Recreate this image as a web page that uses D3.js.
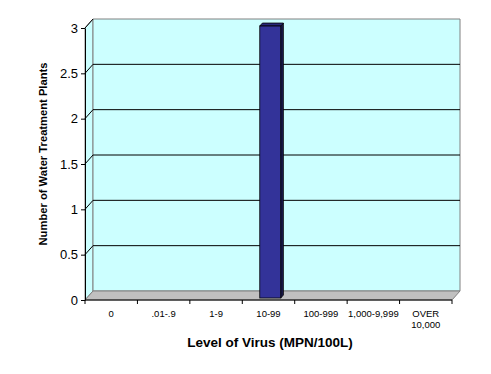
<!DOCTYPE html>
<html>
<head>
<meta charset="utf-8">
<script src="https://cdn.jsdelivr.net/npm/d3@7"></script>
<style>
  body { margin: 0; background: #fff; }
  svg { display: block; font-family: Arial, "Liberation Sans", sans-serif; }
</style>
</head>
<body>
<div id="chart"></div>
<script>
'use strict';

var categories  = ['0', '.01-.9', '1-9', '10-99', '100-999', '1,000-9,999', 'OVER 10,000'];
var plantCounts = [0, 0, 0, 3, 0, 0, 0];
var yTicks      = [0, 0.5, 1, 1.5, 2, 2.5, 3];
var labelX = 'Level of Virus (MPN/100L)';
var labelY = 'Number of Water Treatment Plants';

var W = 491, H = 374;
var dX = 8, dY = -9;   // depth offset of back wall

var svg = d3.select('#chart').append('svg')
    .attr('width', W)
    .attr('height', H);

var x = d3.scaleBand().domain(categories).range([85, 452]);
var y = d3.scaleLinear().domain([0, 3]).range([300, 28]);

function pt(px, py, d) { return [px + dX * d, py + dY * d]; }
function poly(pts) { return pts.map(function(p) { return p.join(','); }).join(' '); }

var x0 = x.range()[0], x1 = x.range()[1];
var yb = y(0), yt = y(3);

// side wall
svg.append('polygon')
    .attr('points', poly([pt(x0, yb, 0), pt(x0, yt, 0), pt(x0, yt, 1), pt(x0, yb, 1)]))
    .attr('fill', '#ccffff')
    .attr('stroke', '#808080')
    .attr('stroke-width', 1);

// back wall
svg.append('polygon')
    .attr('points', poly([pt(x0, yb, 1), pt(x0, yt, 1), pt(x1, yt, 1), pt(x1, yb, 1)]))
    .attr('fill', '#ccffff')
    .attr('stroke', '#808080')
    .attr('stroke-width', 1);

// gridlines
var grid = svg.append('g');
yTicks.slice(1, -1).forEach(function(t) {
    var a = pt(x0, y(t), 0), b = pt(x0, y(t), 1), c = pt(x1, y(t), 1);
    grid.append('polyline')
        .attr('points', poly([a, b, c]))
        .attr('fill', 'none')
        .attr('stroke', '#000')
        .attr('stroke-width', 1);
});
// top diagonal
svg.append('line')
    .attr('x1', x0).attr('y1', yt)
    .attr('x2', pt(x0, yt, 1)[0]).attr('y2', pt(x0, yt, 1)[1])
    .attr('stroke', '#000');

// floor
svg.append('polygon')
    .attr('points', poly([pt(x0, yb, 0), pt(x1, yb, 0), pt(x1, yb, 1), pt(x0, yb, 1)]))
    .attr('fill', '#c0c0c0')
    .attr('stroke', '#808080')
    .attr('stroke-width', 1);

// bars
var dFront = 0.22, dBack = 0.55;
var bw = x.bandwidth() * 0.4;
var bars = svg.append('g').selectAll('g')
    .data(categories.map(function(c, i) { return {cat: c, v: plantCounts[i]}; })
        .filter(function(d) { return d.v > 0; }))
    .enter().append('g');

bars.each(function(d) {
    var g = d3.select(this);
    var bx0 = x(d.cat) + (x.bandwidth() - bw) / 2, bx1 = bx0 + bw;
    var by0 = y(0), by1 = y(d.v);
    var f = function(px, py) { return pt(px, py, dFront); };
    var b = function(px, py) { return pt(px, py, dBack); };
    g.append('polygon')
        .attr('points', poly([f(bx1, by0), f(bx1, by1), b(bx1, by1), b(bx1, by0)]))
        .attr('fill', '#1a1a4d').attr('stroke', '#000').attr('stroke-width', 0.8);
    g.append('polygon')
        .attr('points', poly([f(bx0, by1), f(bx1, by1), b(bx1, by1), b(bx0, by1)]))
        .attr('fill', '#29297a').attr('stroke', '#000').attr('stroke-width', 0.8);
    var p0 = f(bx0, by1), p1 = f(bx1, by0);
    g.append('rect')
        .attr('x', p0[0]).attr('y', p0[1])
        .attr('width', p1[0] - p0[0]).attr('height', p1[1] - p0[1])
        .attr('fill', '#333399').attr('stroke', '#000').attr('stroke-width', 0.8);
});

// y axis
var yAxis = svg.append('g')
    .attr('transform', 'translate(' + x0 + ',0)')
    .call(d3.axisLeft(y).tickValues(yTicks).tickSize(4).tickSizeOuter(0).tickPadding(3)
        .tickFormat(function(d) { return String(d); }));
yAxis.selectAll('text').style('font-size', '13px').attr('fill', '#000');
yAxis.selectAll('line, path').attr('stroke', '#000');

// x axis
svg.append('line')
    .attr('x1', x0).attr('y1', yb).attr('x2', x1).attr('y2', yb)
    .attr('stroke', '#000');
var bounds = categories.map(function(c) { return x(c); }).concat([x1]);
svg.append('g').selectAll('line')
    .data(bounds)
    .enter().append('line')
    .attr('x1', function(d) { return d; }).attr('x2', function(d) { return d; })
    .attr('y1', yb).attr('y2', yb + 4)
    .attr('stroke', '#000');

var xl = svg.append('g').selectAll('text')
    .data(categories)
    .enter().append('text')
    .attr('x', function(d) { return x(d) + x.bandwidth() / 2; })
    .attr('y', 317)
    .attr('text-anchor', 'middle')
    .style('font-size', '9.5px');
xl.each(function(d) {
    var parts = d.indexOf('OVER') === 0 ? d.split(' ') : [d];
    var t = d3.select(this);
    parts.forEach(function(p, i) {
        t.append('tspan')
            .attr('x', t.attr('x'))
            .attr('dy', i === 0 ? 0 : 11)
            .text(p);
    });
});

// axis titles
svg.append('text')
    .attr('x', 270).attr('y', 347)
    .attr('text-anchor', 'middle')
    .style('font-size', '13.5px').style('font-weight', 'bold')
    .text(labelX);

svg.append('text')
    .attr('transform', 'translate(47,154) rotate(-90)')
    .attr('text-anchor', 'middle')
    .style('font-size', '11.2px').style('font-weight', 'bold')
    .text(labelY);
</script>
</body>
</html>
